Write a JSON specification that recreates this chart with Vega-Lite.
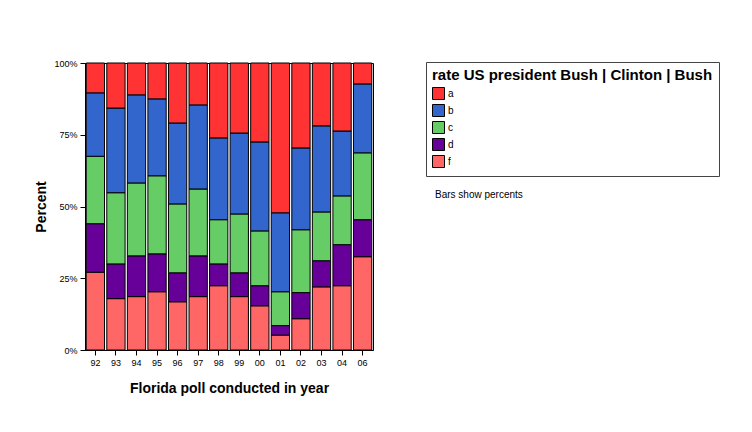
{
  "$schema": "https://vega.github.io/schema/vega-lite/v6.json",
  "width": 288,
  "height": 287,
  "autosize": "none",
  "padding": {"left": 85, "top": 63, "right": 379, "bottom": 82},
  "background": "white",
  "config": {
    "font": "Liberation Sans",
    "view": {"stroke": "black", "strokeWidth": 1},
    "axis": {
      "domainColor": "black",
      "tickColor": "black",
      "labelColor": "black",
      "titleColor": "black",
      "labelFontSize": 9,
      "titleFontSize": 14,
      "titleFontWeight": "bold",
      "tickSize": 5,
      "grid": false
    }
  },
  "title": {
    "text": "Bars show percents",
    "anchor": "start",
    "frame": "group",
    "orient": "top",
    "dx": 350,
    "dy": 145,
    "fontSize": 10,
    "fontWeight": "normal",
    "color": "black"
  },
  "data": {
    "values": [
      {"year": "92", "cat": "f", "pct": 27.1}, {"year": "92", "cat": "d", "pct": 16.9}, {"year": "92", "cat": "c", "pct": 23.5}, {"year": "92", "cat": "b", "pct": 22.1}, {"year": "92", "cat": "a", "pct": 10.4},
      {"year": "93", "cat": "f", "pct": 17.9}, {"year": "93", "cat": "d", "pct": 12.1}, {"year": "93", "cat": "c", "pct": 24.8}, {"year": "93", "cat": "b", "pct": 29.5}, {"year": "93", "cat": "a", "pct": 15.7},
      {"year": "94", "cat": "f", "pct": 18.6}, {"year": "94", "cat": "d", "pct": 14.2}, {"year": "94", "cat": "c", "pct": 25.4}, {"year": "94", "cat": "b", "pct": 30.7}, {"year": "94", "cat": "a", "pct": 11.1},
      {"year": "95", "cat": "f", "pct": 20.3}, {"year": "95", "cat": "d", "pct": 13.2}, {"year": "95", "cat": "c", "pct": 27.2}, {"year": "95", "cat": "b", "pct": 26.8}, {"year": "95", "cat": "a", "pct": 12.5},
      {"year": "96", "cat": "f", "pct": 16.8}, {"year": "96", "cat": "d", "pct": 10.1}, {"year": "96", "cat": "c", "pct": 24.0}, {"year": "96", "cat": "b", "pct": 28.2}, {"year": "96", "cat": "a", "pct": 20.9},
      {"year": "97", "cat": "f", "pct": 18.6}, {"year": "97", "cat": "d", "pct": 14.2}, {"year": "97", "cat": "c", "pct": 23.3}, {"year": "97", "cat": "b", "pct": 29.3}, {"year": "97", "cat": "a", "pct": 14.6},
      {"year": "98", "cat": "f", "pct": 22.4}, {"year": "98", "cat": "d", "pct": 7.6}, {"year": "98", "cat": "c", "pct": 15.4}, {"year": "98", "cat": "b", "pct": 28.5}, {"year": "98", "cat": "a", "pct": 26.1},
      {"year": "99", "cat": "f", "pct": 18.6}, {"year": "99", "cat": "d", "pct": 8.3}, {"year": "99", "cat": "c", "pct": 20.5}, {"year": "99", "cat": "b", "pct": 28.2}, {"year": "99", "cat": "a", "pct": 24.4},
      {"year": "00", "cat": "f", "pct": 15.4}, {"year": "00", "cat": "d", "pct": 7.0}, {"year": "00", "cat": "c", "pct": 19.1}, {"year": "00", "cat": "b", "pct": 31.0}, {"year": "00", "cat": "a", "pct": 27.5},
      {"year": "01", "cat": "f", "pct": 5.2}, {"year": "01", "cat": "d", "pct": 3.3}, {"year": "01", "cat": "c", "pct": 11.8}, {"year": "01", "cat": "b", "pct": 27.5}, {"year": "01", "cat": "a", "pct": 52.2},
      {"year": "02", "cat": "f", "pct": 10.9}, {"year": "02", "cat": "d", "pct": 9.1}, {"year": "02", "cat": "c", "pct": 21.9}, {"year": "02", "cat": "b", "pct": 28.5}, {"year": "02", "cat": "a", "pct": 29.6},
      {"year": "03", "cat": "f", "pct": 22.0}, {"year": "03", "cat": "d", "pct": 9.1}, {"year": "03", "cat": "c", "pct": 17.0}, {"year": "03", "cat": "b", "pct": 30.0}, {"year": "03", "cat": "a", "pct": 21.9},
      {"year": "04", "cat": "f", "pct": 22.4}, {"year": "04", "cat": "d", "pct": 14.3}, {"year": "04", "cat": "c", "pct": 17.0}, {"year": "04", "cat": "b", "pct": 22.6}, {"year": "04", "cat": "a", "pct": 23.7},
      {"year": "06", "cat": "f", "pct": 32.5}, {"year": "06", "cat": "d", "pct": 12.9}, {"year": "06", "cat": "c", "pct": 23.3}, {"year": "06", "cat": "b", "pct": 24.0}, {"year": "06", "cat": "a", "pct": 7.3}
    ]
  },
  "mark": {"type": "bar", "stroke": "black", "strokeWidth": 1},
  "encoding": {
    "x": {
      "field": "year",
      "type": "ordinal",
      "sort": null,
      "scale": {"paddingInner": 0.11, "paddingOuter": 0.06},
      "axis": {"title": "Florida poll conducted in year", "labelAngle": 0, "domain": true, "titlePadding": 14, "labelPadding": 3}
    },
    "y": {
      "field": "pct",
      "type": "quantitative",
      "stack": "normalize",
      "scale": {"domain": [0, 1]},
      "axis": {"title": "Percent", "values": [0, 0.25, 0.5, 0.75, 1], "format": ".0%", "titlePadding": 5, "labelPadding": 3}
    },
    "color": {
      "field": "cat",
      "type": "nominal",
      "scale": {"domain": ["a", "b", "c", "d", "f"], "range": ["#FF3333", "#3366CC", "#66CC66", "#660099", "#FF6666"]},
      "legend": {
        "title": "rate US president Bush | Clinton | Bush",
        "orient": "none",
        "legendX": 341,
        "legendY": -1,
        "titleFontSize": 15,
        "titleFontWeight": "bold",
        "titleColor": "black",
        "labelFontSize": 10,
        "labelColor": "black",
        "symbolType": "square",
        "symbolSize": 144,
        "symbolStrokeColor": "black",
        "symbolStrokeWidth": 1,
        "symbolOpacity": 1,
        "rowPadding": 0,
        "labelOffset": 3,
        "padding": 6,
        "strokeColor": "#444444",
        "titlePadding": 4,
        "titleLimit": 400
      }
    },
    "order": {"field": "cat", "sort": "descending"}
  }
}
